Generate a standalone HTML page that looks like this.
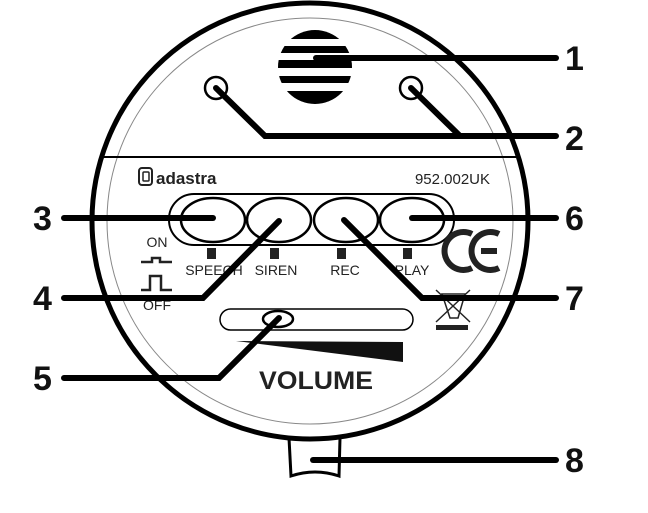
<!DOCTYPE html>
<html><head><style>
body{margin:0;background:#fff;}
svg{display:block;}
</style></head><body>
<svg width="648" height="513" viewBox="0 0 648 513" xmlns="http://www.w3.org/2000/svg">
<path d="M289 438 L291 476 Q315 468 339 476 L340 438" fill="#fff" stroke="#000" stroke-width="3"/>
<circle cx="310" cy="221" r="218" fill="#fff" stroke="#000" stroke-width="5"/>
<circle cx="310" cy="221" r="203" fill="none" stroke="#888" stroke-width="1"/>
<line x1="104" y1="157" x2="516" y2="157" stroke="#000" stroke-width="2"/>
<clipPath id="sp"><circle cx="315" cy="67" r="37"/></clipPath>
<g clip-path="url(#sp)" fill="#000">
<rect x="270" y="30" width="90" height="9"/><rect x="270" y="46" width="90" height="7"/>
<rect x="270" y="60" width="90" height="8"/><rect x="270" y="76" width="90" height="7"/>
<rect x="270" y="91" width="90" height="20"/>
</g>
<circle cx="216" cy="88" r="11" fill="#fff" stroke="#000" stroke-width="2.5"/>
<circle cx="411" cy="88" r="11" fill="#fff" stroke="#000" stroke-width="2.5"/>
<rect x="139" y="168" width="13" height="17" rx="3" fill="none" stroke="#222" stroke-width="2"/>
<rect x="143" y="172" width="6" height="9" rx="1" fill="none" stroke="#222" stroke-width="1.5"/>
<text x="156" y="184" font-family="Liberation Sans,sans-serif" font-size="17" font-weight="bold" fill="#222">adastra</text>
<text x="490" y="184" text-anchor="end" font-family="Liberation Sans,sans-serif" font-size="15" fill="#222">952.002UK</text>
<rect x="169" y="194" width="285" height="51" rx="25" fill="none" stroke="#000" stroke-width="2"/>
<g fill="#fff" stroke="#000" stroke-width="2.5">
<ellipse cx="213" cy="220" rx="32" ry="22"/><ellipse cx="279" cy="220" rx="32" ry="22"/>
<ellipse cx="346" cy="220" rx="32" ry="22"/><ellipse cx="412" cy="220" rx="32" ry="22"/>
</g>
<g fill="#222"><rect x="207" y="248" width="9" height="11"/><rect x="270" y="248" width="9" height="11"/><rect x="337" y="248" width="9" height="11"/><rect x="403" y="248" width="9" height="11"/></g>
<g font-family="Liberation Sans,sans-serif" font-size="14" fill="#222" text-anchor="middle">
<text x="214" y="275">SPEECH</text><text x="276" y="275">SIREN</text><text x="345" y="275">REC</text><text x="412" y="275">PLAY</text>
<text x="157" y="247">ON</text><text x="157" y="310">OFF</text>
</g>
<path d="M141 262 H152 V258 H160 V262 H172" fill="none" stroke="#222" stroke-width="2.5"/>
<path d="M141 290 H150 V276 H161 V290 H172" fill="none" stroke="#222" stroke-width="2.5"/>
<g fill="none" stroke="#222" stroke-width="6">
<path d="M472 234 A19 19 0 1 0 472 268"/>
<path d="M499 234 A19 19 0 1 0 499 268"/>
<line x1="481" y1="251" x2="497" y2="251"/>
</g>
<g stroke="#222" stroke-width="1.5" fill="none"><path d="M442 294 L450 318 H458 L465 294 Z"/><line x1="436" y1="290" x2="470" y2="322"/><line x1="470" y1="290" x2="436" y2="322"/></g>
<rect x="436" y="325" width="32" height="5" fill="#222"/>
<rect x="220" y="309" width="193" height="21" rx="10.5" fill="none" stroke="#000" stroke-width="1.5"/>
<ellipse cx="278" cy="319" rx="15" ry="8" fill="#fff" stroke="#000" stroke-width="2.5"/>
<path d="M236 341 L403 342 L403 362 Z" fill="#111"/>
<text x="316" y="389" text-anchor="middle" font-family="Liberation Sans,sans-serif" font-size="25" font-weight="bold" fill="#222" textLength="114" lengthAdjust="spacingAndGlyphs">VOLUME</text>
<g stroke="#000" stroke-width="6" fill="none" stroke-linecap="round" stroke-linejoin="miter">
<path d="M316 58 H556"/>
<path d="M216 88 L265 136 H556"/>
<path d="M411 88 L460 136"/>
<path d="M64 218 H213"/>
<path d="M412 218 H556"/>
<path d="M64 298 H203 L279 221"/>
<path d="M344 220 L422 298 H556"/>
<path d="M64 378 H219 L279 318"/>
<path d="M313 460 H556"/>
</g>
<g font-family="Liberation Sans,sans-serif" font-size="34" font-weight="bold" fill="#111">
<text x="565" y="70">1</text><text x="565" y="150">2</text><text x="565" y="230">6</text>
<text x="565" y="310">7</text><text x="565" y="472">8</text>
<text x="33" y="230">3</text><text x="33" y="310">4</text><text x="33" y="390">5</text>
</g>
</svg>
</body></html>
